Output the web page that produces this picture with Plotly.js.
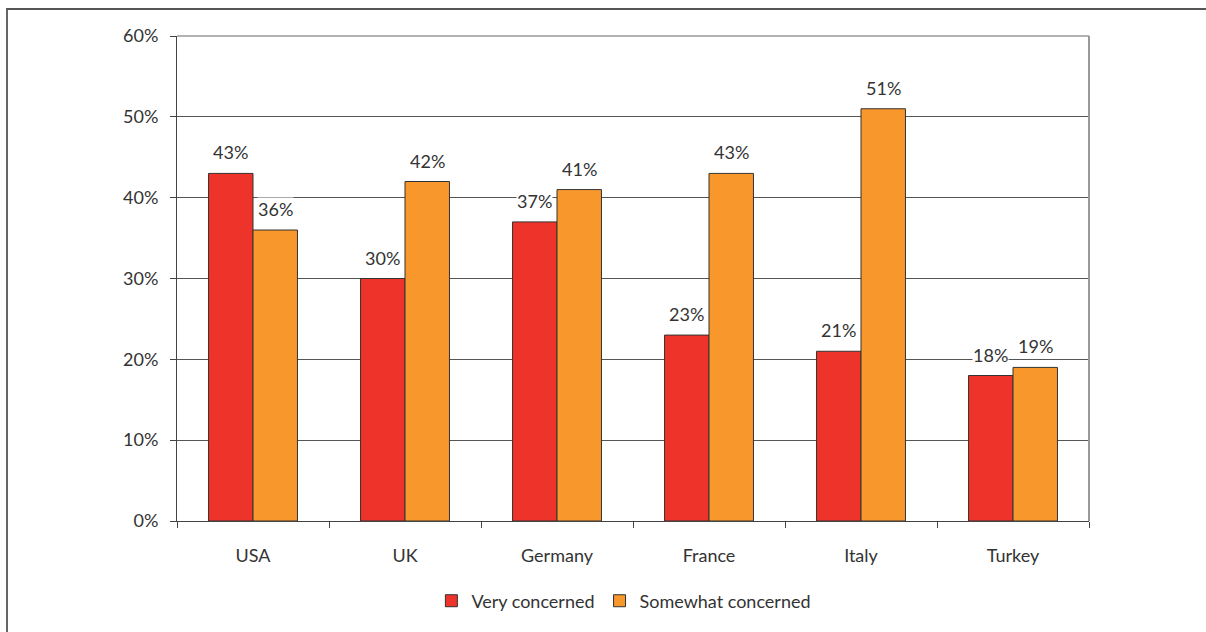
<!DOCTYPE html>
<html>
<head>
<meta charset="utf-8">
<script src="https://cdn.plot.ly/plotly-3.0.1.min.js"></script>
<style>
  html, body { margin: 0; padding: 0; background: #fff; }
  #wrap { position: relative; width: 1206px; height: 632px; overflow: hidden; }
  #chart { position: absolute; left: 0; top: 0; width: 1206px; height: 632px; }
  #frame { position: absolute; left: 6px; top: 8px; width: 1210px; height: 640px;
           border-top: 2px solid #555; border-left: 2px solid #666; pointer-events: none; }
</style>
</head>
<body>
<div id="wrap">
  <div id="chart"></div>
  <div id="frame"></div>
</div>
<script>
const categories = ["USA", "UK", "Germany", "France", "Italy", "Turkey"];
const veryConcerned = [43, 30, 37, 23, 21, 18];
const somewhatConcerned = [36, 42, 41, 43, 51, 19];
const seriesNames = ["Very concerned", "Somewhat concerned"];
const yTicks = [0, 10, 20, 30, 40, 50, 60];
const yTickLabels = ["0%", "10%", "20%", "30%", "40%", "50%", "60%"];

const FONT = "Lato, 'Open Sans', sans-serif";
const TXT = "#333333";

const traces = [
  {
    type: "bar", name: seriesNames[0], x: categories, y: veryConcerned,
    marker: { color: "#EE332A", line: { color: "#333333", width: 1 } },
    hoverinfo: "none"
  },
  {
    type: "bar", name: seriesNames[1], x: categories, y: somewhatConcerned,
    marker: { color: "#F7972C", line: { color: "#333333", width: 1 } },
    hoverinfo: "none"
  }
];

const annotations = [];
categories.forEach((c, i) => {
  [[veryConcerned, -22.5], [somewhatConcerned, 22.5]].forEach(([arr, dx]) => {
    annotations.push({
      x: c, y: arr[i], xref: "x", yref: "y",
      text: arr[i] + "%", showarrow: false,
      xanchor: "center", yanchor: "bottom",
      xshift: dx, yshift: 9,
      bgcolor: "#ffffff", borderpad: 0,
      font: { family: FONT, size: 18, color: TXT }
    });
  });
});

const layout = {
  width: 1206, height: 632,
  margin: { l: 177, r: 117, t: 36, b: 111, pad: 0 },
  paper_bgcolor: "#ffffff", plot_bgcolor: "#ffffff",
  barmode: "group", bargap: 0.415, bargroupgap: 0,
  showlegend: true,
  legend: {
    orientation: "h", x: 0.49, xanchor: "center", y: -0.165, yanchor: "middle",
    font: { family: FONT, size: 18, color: TXT },
    itemwidth: 30, traceorder: "normal"
  },
  font: { family: FONT, size: 18, color: TXT },
  xaxis: {
    type: "category",
    showline: true, linecolor: "#444444", linewidth: 1,
    ticks: "outside", ticklen: 6, tickcolor: "#444444", tickson: "boundaries",
    ticklabelstandoff: 18,
    tickfont: { family: FONT, size: 18, color: TXT },
    showgrid: false, zeroline: false, fixedrange: true
  },
  yaxis: {
    range: [0, 60],
    tickvals: yTicks, ticktext: yTickLabels,
    showline: true, linecolor: "#444444", linewidth: 1,
    ticks: "outside", ticklen: 6, tickcolor: "#444444",
    ticklabelstandoff: 8,
    showgrid: true, gridcolor: "#555555", gridwidth: 1,
    zeroline: false,
    tickfont: { family: FONT, size: 18, color: TXT },
    fixedrange: true
  },
  shapes: [
    { type: "line", xref: "paper", yref: "paper", x0: 1, x1: 1, y0: 0, y1: 1,
      line: { color: "#999999", width: 2 } },
    { type: "line", xref: "paper", yref: "paper", x0: 0, x1: 1, y0: 1, y1: 1,
      line: { color: "#999999", width: 1.5 } }
  ],
  annotations: annotations
};

Plotly.newPlot("chart", traces, layout, { displayModeBar: false, staticPlot: true });
</script>
</body>
</html>
